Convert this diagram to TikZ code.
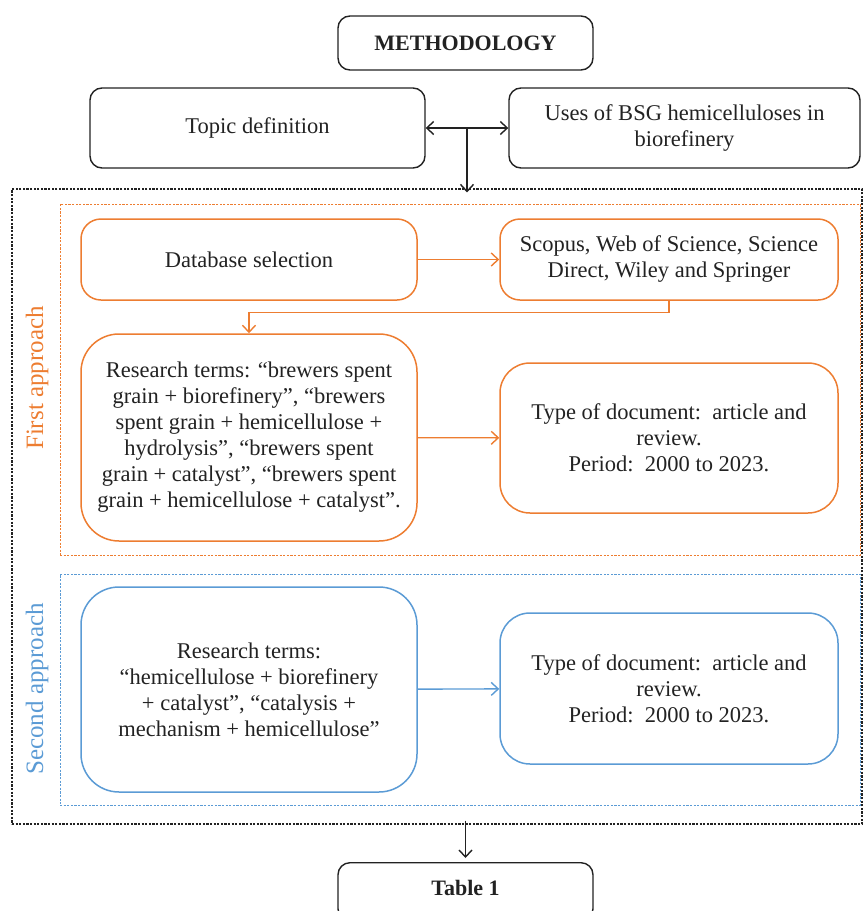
\documentclass[tikz,border=0pt]{standalone}
\usepackage{fontspec}
\setmainfont{Liberation Serif}
\usetikzlibrary{arrows.meta}
\definecolor{org}{HTML}{ED7D31}
\definecolor{blu}{HTML}{5B9BD5}
\definecolor{ink}{HTML}{222222}
\begin{document}
\begin{tikzpicture}[x=1pt,y=-1pt,
  txt/.style={align=center, inner sep=0pt, text=ink, font=\fontsize{22.5}{26}\selectfont},
  blackbox/.style={txt, draw=ink, line width=1.4pt, rounded corners=12pt},
  obox/.style={txt, draw=org, line width=1.5pt},
  bbox/.style={txt, draw=blu, line width=1.5pt},
  frame/.style={dash pattern=on 2.2pt off 1.4pt, line width=1.1pt},
  arr/.style={-{Straight Barb[length=7pt,width=13pt]}, line width=1.4pt},
  darr/.style={{Straight Barb[length=7pt,width=13pt]}-{Straight Barb[length=7pt,width=13pt]}, line width=1.4pt},
  sidelabel/.style={rotate=90, inner sep=0pt, font=\fontsize{25}{28}\selectfont}]
\useasboundingbox (0,0) rectangle (863,911);
\clip (0,0) rectangle (863,911);

% top
\node[blackbox, minimum width=255, minimum height=54, font=\fontsize{22}{26}\selectfont\bfseries] (meth) at (465.5,43) {METHODOLOGY};
\node[blackbox, minimum width=335, minimum height=80] (topic) at (257.5,128) {Topic definition};
\node[blackbox, minimum width=351, minimum height=80] (uses) at (684.5,128) {Uses of BSG hemicelluloses in\\biorefinery};
\draw[darr, ink] (topic) -- (uses);
\coordinate (mid) at (467,128);

% frames
\node[draw=ink, frame, minimum width=850, minimum height=635, inner sep=0pt] (outer) at (437,506.5) {};
\node[draw=org, frame, line width=1pt, minimum width=800, minimum height=351, inner sep=0pt] (first) at (460,379.5) {};
\node[draw=blu, frame, line width=1pt, minimum width=800, minimum height=231, inner sep=0pt] (second) at (460,689.5) {};
\draw[arr, ink] (mid) -- ([yshift=-4]mid |- outer.north);

\node[sidelabel, text=org] (lab1) at (37,378) {First approach};
\node[sidelabel, text=blu] (lab2) at (37,689) {Second approach};

% first approach
\node[obox, rounded corners=20pt, minimum width=336, minimum height=81] (db) at (249,259.5) {Database selection};
\node[obox, rounded corners=20pt, minimum width=338, minimum height=81] (scopus) at (669,259.5) {Scopus, Web of Science, Science\\Direct, Wiley and Springer};
\node[obox, rounded corners=38pt, minimum width=336, minimum height=207] (rt1) at (249,437.5) {Research terms: “brewers spent\\grain + biorefinery”, “brewers\\spent grain + hemicellulose +\\hydrolysis”, “brewers spent\\grain + catalyst”, “brewers spent\\grain + hemicellulose + catalyst”.};
\node[obox, rounded corners=30pt, minimum width=338, minimum height=150] (td1) at (669,438) {Type of document:\ \ article and\\review.\\Period:\ \ 2000 to 2023.};
\draw[arr, org] (db) -- (scopus);
\draw[arr, org] (scopus.south) -- ++(0,12) -| (rt1.north);
\draw[arr, org] (rt1) -- (td1);

% second approach
\node[bbox, rounded corners=38pt, minimum width=336, minimum height=205] (rt2) at (249,689.5) {Research terms:\\“hemicellulose + biorefinery\\+ catalyst”, “catalysis +\\mechanism + hemicellulose”};
\node[bbox, rounded corners=30pt, minimum width=338, minimum height=151] (td2) at (669,688.5) {Type of document:\ \ article and\\review.\\Period:\ \ 2000 to 2023.};
\draw[arr, blu] (rt2) -- (td2);

% bottom
\node[blackbox, minimum width=255, minimum height=58, font=\fontsize{22}{26}\selectfont\bfseries, anchor=north] (table) at (465.5,862) {\raisebox{8pt}{Table 1}};
\draw[arr, ink, shorten >=4pt] ([yshift=4]table.north |- outer.south) -- (table.north);
\end{tikzpicture}
\end{document}
